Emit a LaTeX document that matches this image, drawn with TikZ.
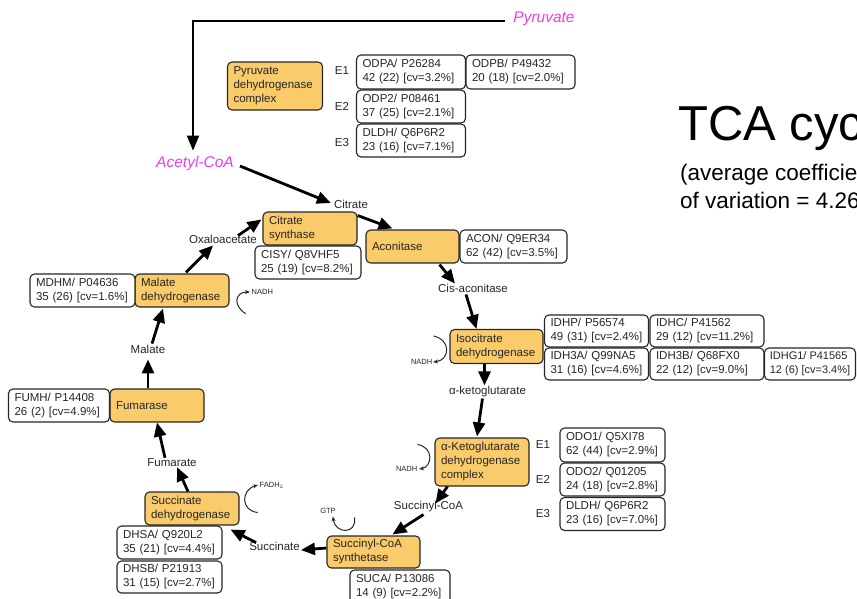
\documentclass[tikz,border=0pt]{standalone}
\usepackage{fontspec}
\setmainfont{Liberation Sans}
\usetikzlibrary{arrows.meta,calc}
\definecolor{enzfill}{HTML}{F9CB6B}
\definecolor{magtxt}{HTML}{EE3CEE}
\definecolor{ink}{HTML}{262626}
\newcommand\bxf{\fontsize{11.5}{14}\selectfont}
\newcommand\smf{\fontsize{7.5}{9}\selectfont}
\begin{document}
\begin{tikzpicture}[x=1pt,y=-1pt,
  box/.style={draw=ink, line width=1.1pt, rounded corners=4.5pt, inner xsep=6pt, inner ysep=1pt, align=left, font=\bxf, text=ink},
  enz/.style={box, fill=enzfill},
  prot/.style={box, fill=white},
  bw/.code={\pgfmathsetmacro\twd{#1-12}\edef\tmpset{\noexpand\tikzset{minimum width=#1pt, text width=\twd pt}}\tmpset},
  bh/.style={minimum height=#1pt},
  met/.style={font=\bxf, text=ink, inner sep=1pt},
  cof/.style={font=\smf, text=ink, inner sep=0.5pt},
  mag/.style={font=\fontsize{15.5}{18}\selectfont\itshape, text=magtxt, inner sep=1pt},
  subt/.style={anchor=base west, inner sep=0, font=\fontsize{22.5}{27}\selectfont, text=black},
  arr/.style={draw=black, line width=2.8pt, -{Triangle[length=14pt,width=12pt]}},
  thinarr/.style={draw=ink, line width=1pt, -{Stealth[length=5pt,width=4pt]}}
]
\useasboundingbox (0,0) rectangle (857,598);
\clip (0,0) rectangle (857,598);

% title
\node[anchor=base west, inner sep=0, font=\fontsize{49}{55}\selectfont] (title) at (678,140) {TCA cyc};
\node[subt] (sub1) at (680,180) {(average coefficie};
\node[subt] (sub2) at (680,208) {of variation = 4.26};

% pyruvate dehydrogenase
\node[mag] (pyr) at (544,19) {Pyruvate};
\node[mag] (acetyl) at (195,163) {Acetyl-CoA};
\node[enz, bw=95, bh=48] (pdh) at (275,86) {Pyruvate\\dehydrogenase\\complex};
\node[met] (e1a) at (342,71) {E1};
\node[met] (e2a) at (342,106) {E2};
\node[met] (e3a) at (342,143) {E3};
\node[prot, bw=109, bh=34] (odpa) at (411,72) {ODPA/ P26284\\42 (22) [cv=3.2\%]};
\node[prot, bw=109, bh=34] (odpb) at (520.5,72) {ODPB/ P49432\\20 (18) [cv=2.0\%]};
\node[prot, bw=109, bh=33] (odp2) at (411,106.5) {ODP2/ P08461\\37 (25) [cv=2.1\%]};
\node[prot, bw=109, bh=33] (dldha) at (411,140.5) {DLDH/ Q6P6R2\\23 (16) [cv=7.1\%]};

% citrate synthase / aconitase
\node[met] (citrate) at (351,204) {Citrate};
\node[enz, bw=94, bh=33] (cs) at (310,228.5) {Citrate\\synthase};
\node[prot, bw=106, bh=33] (cisy) at (308,262.5) {CISY/ Q8VHF5\\25 (19) [cv=8.2\%]};
\node[enz, bw=93, bh=33] (acon) at (412.5,246.5) {Aconitase};
\node[prot, bw=107, bh=33] (aconp) at (513.5,246.5) {ACON/ Q9ER34\\62 (42) [cv=3.5\%]};
\node[met] (oaa) at (223,239) {Oxaloacetate};
\node[met] (cis) at (473,288) {Cis-aconitase};

% isocitrate dehydrogenase
\node[enz, bw=93, bh=34] (icdh) at (496.5,346.5) {Isocitrate\\dehydrogenase};
\node[prot, bw=104, bh=32] (idhp) at (596.5,331) {IDHP/ P56574\\49 (31) [cv=2.4\%]};
\node[prot, bw=114, bh=32] (idhc) at (707,331) {IDHC/ P41562\\29 (12) [cv=11.2\%]};
\node[prot, bw=104, bh=32] (idh3a) at (596.5,364) {IDH3A/ Q99NA5\\31 (16) [cv=4.6\%]};
\node[prot, bw=114, bh=32] (idh3b) at (707,364) {IDH3B/ Q68FX0\\22 (12) [cv=9.0\%]};
\node[prot, inner xsep=4pt, minimum width=91pt, minimum height=32pt, font=\fontsize{11}{14}\selectfont] (idhg1) at (810,364) {IDHG1/ P41565\\12 (6) [cv=3.4\%]};
\node[met] (akg) at (487.5,392) {α-ketoglutarate};

% alpha-KG dehydrogenase
\node[enz, bw=94, bh=48] (akgdh) at (482,462) {α-Ketoglutarate\\dehydrogenase\\complex};
\node[met] (e1b) at (543,445) {E1};
\node[met] (e2b) at (543,479) {E2};
\node[met] (e3b) at (543,514) {E3};
\node[prot, bw=105, bh=34] (odo1) at (612.5,445) {ODO1/ Q5XI78\\62 (44) [cv=2.9\%]};
\node[prot, bw=105, bh=33] (odo2) at (612.5,479.5) {ODO2/ Q01205\\24 (18) [cv=2.8\%]};
\node[prot, bw=105, bh=33] (dldhb) at (612.5,514) {DLDH/ Q6P6R2\\23 (16) [cv=7.0\%]};
\node[met] (succoa) at (428.5,507) {Succinyl-CoA};

% succinyl-CoA synthetase
\node[enz, bw=93, bh=32] (scs) at (373.5,552) {Succinyl-CoA\\synthetase};
\node[prot, bw=100, bh=33] (suca) at (400,586.5) {SUCA/ P13086\\14 (9) [cv=2.2\%]};
\node[met] (succ) at (274.5,546) {Succinate};

% succinate dehydrogenase
\node[enz, bw=94, bh=33] (sdh) at (192,508.5) {Succinate\\dehydrogenase};
\node[prot, bw=105, bh=33] (dhsa) at (169.5,542.5) {DHSA/ Q920L2\\35 (21) [cv=4.4\%]};
\node[prot, bw=105, bh=32] (dhsb) at (169.5,577) {DHSB/ P21913\\31 (15) [cv=2.7\%]};
\node[met] (fum) at (172,463) {Fumarate};

% fumarase
\node[enz, bw=94, bh=33] (fumase) at (157,405.5) {Fumarase};
\node[prot, bw=101, bh=33] (fumh) at (59,405.5) {FUMH/ P14408\\26 (2) [cv=4.9\%]};
\node[met] (mal) at (148,349) {Malate};

% malate dehydrogenase
\node[enz, bw=94, bh=33] (mdh) at (182,290.5) {Malate\\dehydrogenase};
\node[prot, bw=105, bh=33] (mdhm) at (82.5,290.5) {MDHM/ P04636\\35 (26) [cv=1.6\%]};

% cofactors
\node[cof, anchor=west] (nadh1) at (251,292) {NADH};
\node[cof, anchor=east] (nadh2) at (433,362) {NADH};
\node[cof, anchor=east] (nadh3) at (418,469) {NADH};
\node[cof] (gtp) at (328,511) {GTP};
\node[cof, anchor=west] (fadh) at (259,485) {FADH$_2$};

% main arrows
\draw[line width=2pt, -{Triangle[length=15pt,width=12pt]}] ($(pyr.west)+(-7,2)$) -| ($(acetyl.north)+(-2,-4)$);
\draw[arr] ($(acetyl.east)+(5,3)$) -- ($(citrate.west)+(-2,-1)$);
\draw[arr] ($(cs.north east)+(0,4)$) -- ($(acon.north)+(-20,-1)$);
\draw[arr] ($(oaa.north)+(15,2)$) -- ($(cs.west)+(-1,-9)$);
\draw[arr] ($(mdh.north)+(4,-1)$) -- ($(oaa.south)+(-10,1)$);
\draw[arr] ($(acon.south)+(27,1)$) -- ($(cis.north)+(-18,1)$);
\draw[arr] ($(cis.south)+(-7,1)$) -- ($(icdh.north)+(-20,0)$);
\draw[arr] ($(icdh.south)+(-12,0)$) -- ($(akg.north)+(-3,0)$);
\draw[arr] ($(akg.south)+(-5,0)$) -- ($(akgdh.north)+(-5,-1)$);
\draw[arr] ($(akgdh.south west)+(13,0)$) -- ($(succoa.north)+(7,3)$);
\draw[arr] ($(succoa.south)+(-5,1)$) -- ($(scs.north)+(19,-1)$);
\draw[arr] ($(scs.west)+(0,-4)$) -- ($(succ.east)+(0,4)$);
\draw[arr] ($(succ.north west)+(8,2)$) -- ($(sdh.south east)+(-9,4)$);
\draw[arr] ($(sdh.north)+(-4,0)$) -- ($(fum.south)+(5,-1)$);
\draw[arr] ($(fum.north)+(-7,0)$) -- (fumase.south);
\draw[arr] ($(fumase.north)+(-9,0)$) -- ($(mal.south)+(0,5)$);
\draw[arr] ($(mal.north)+(4,0)$) -- ($(mdh.south)+(-19,1)$);

% cofactor arcs
\draw[thinarr] ($(mdh.south east)+(16,6)$) .. controls +(-13,-8) and +(-15,0) .. ($(nadh1.west)+(-1,0)$);
\draw[thinarr] ($(icdh.north west)+(-16,7)$) .. controls +(18,4) and +(17,-2) .. ($(nadh2.east)+(0,0)$);
\draw[thinarr] ($(akgdh.north west)+(-17,7)$) .. controls +(17,3) and +(13,-2) .. ($(nadh3.east)+(1,0)$);
\draw[thinarr] ($(scs.north west)+(28,-18)$) .. controls +(3,17) and +(2,18) .. ($(gtp.south)+(5,2)$);
\draw[thinarr] ($(sdh.east)+(18,4)$) .. controls +(-17,-2) and +(-17,5) .. ($(fadh.west)+(-1,0)$);
\end{tikzpicture}
\end{document}
